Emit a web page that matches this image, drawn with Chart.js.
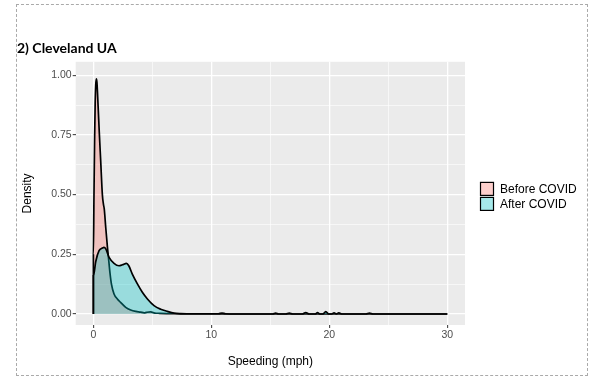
<!DOCTYPE html>
<html lang="en">
<head>
  <meta charset="UTF-8">
  <title>2) Cleveland UA</title>
  <script src="https://cdn.jsdelivr.net/npm/chart.js"></script>
  <style>
    body {
      margin: 0;
      background: #fff;
      overflow: hidden;
    }

    .frame {
      position: absolute;
      left: 16px;
      top: 4px;
      width: 572px;
      height: 372px;
      box-sizing: border-box;
      border: 1px dashed #aaa;
    }

    .chart-container {
      position: absolute;
      left: 0;
      top: 0;
      width: 600px;
      height: 379px;
    }
  </style>
</head>
<body>
  <div class="frame"></div>
  <div class="chart-container">
    <canvas id="myChart"></canvas>
  </div>

  <script>
    // Density curves (speeding in mph -> density)
    const beforeX = [0, 0, 0.05, 0.1, 0.15, 0.2, 0.25, 0.3, 0.4, 0.5, 0.62, 0.76, 0.85, 0.92, 1.05, 1.19, 1.27, 1.41, 1.53, 1.75, 2.03, 2.3, 2.74, 3.16, 3.6, 4.0, 4.3, 4.5, 4.86, 5.2, 5.6, 6.2, 7, 8, 10, 15, 20, 25, 30];
    const beforeY = [0, 0.25, 0.5, 0.72, 0.88, 0.96, 0.985, 0.97, 0.87, 0.76, 0.64, 0.5, 0.46, 0.44, 0.36, 0.28, 0.24, 0.17, 0.125, 0.084, 0.063, 0.049, 0.028, 0.017, 0.011, 0.008, 0.005, 0.007, 0.009, 0.004, 0.003, 0.002, 0.001, 0, 0, 0, 0, 0, 0];

    const afterX = [0, 0, 0.2, 0.48, 0.76, 0.9, 1.05, 1.33, 1.75, 2.17, 2.46, 2.8, 3.0, 3.3, 3.73, 4.15, 4.58, 5.14, 5.7, 6.27, 6.84, 7.4, 8.5, 10, 10.6, 10.9, 11.2, 12, 15, 15.2, 15.45, 15.7, 16.3, 16.6, 16.9, 17.7, 18.0, 18.3, 18.8, 19.0, 19.2, 19.45, 19.7, 19.95, 20.2, 20.4, 20.6, 20.8, 21.1, 22, 23.1, 23.4, 23.7, 25, 30];
    const afterY = [0, 0.16, 0.22, 0.265, 0.276, 0.279, 0.273, 0.237, 0.212, 0.202, 0.206, 0.212, 0.202, 0.167, 0.126, 0.091, 0.063, 0.035, 0.02, 0.011, 0.004, 0.002, 0.001, 0.001, 0.001, 0.004, 0.001, 0, 0, 0, 0.004, 0, 0, 0.004, 0, 0, 0.006, 0, 0, 0.006, 0, 0, 0.01, 0, 0, 0.005, 0, 0.005, 0, 0, 0, 0.004, 0, 0, 0];

    const seriesNames = ['Before COVID', 'After COVID'];
    const seriesFill = ['rgba(248, 118, 109, 0.35)', 'rgba(0, 191, 196, 0.35)'];

    // axis ticks (major ones get a label, minor ones only a thin grid line)
    const xTicks = [0, 5, 10, 15, 20, 25, 30];
    const xMajor = [0, 10, 20, 30];
    const yTicks = [0, 0.125, 0.25, 0.375, 0.5, 0.625, 0.75, 0.875, 1];
    const yMajor = [0, 0.25, 0.5, 0.75, 1];

    const toPoints = (xs, ys) => xs.map((x, i) => ({ x: x, y: ys[i] }));

    const isMajor = (axis, v) => (axis === 'x' ? xMajor : yMajor).some(m => Math.abs(m - v) < 1e-9);

    // grey ggplot panel
    const panelBg = {
      id: 'panelBg',
      beforeDraw(chart) {
        const a = chart.chartArea;
        const ctx = chart.ctx;
        ctx.save();
        ctx.fillStyle = '#EBEBEB';
        ctx.fillRect(a.left, a.top, a.right - a.left, a.bottom - a.top);
        ctx.restore();
      }
    };

    // legend on the right, ggplot style (stacked boxes with black outline)
    const sideLegend = {
      id: 'sideLegend',
      afterDraw(chart) {
        const a = chart.chartArea;
        const ctx = chart.ctx;
        const x0 = a.right + 15;
        let y0 = (a.top + a.bottom) / 2 - 11.5;
        ctx.save();
        chart.data.datasets.forEach((ds, i) => {
          const y = y0 + i * 15;
          ctx.fillStyle = '#fff';
          ctx.fillRect(x0, y, 14, 14);
          ctx.fillStyle = ds.backgroundColor;
          ctx.fillRect(x0, y, 14, 14);
          ctx.strokeStyle = '#000';
          ctx.lineWidth = 1.2;
          ctx.strokeRect(x0 + 0.5, y + 0.5, 13, 13);
          ctx.fillStyle = '#000';
          ctx.font = '12px "Liberation Sans", Arial, sans-serif';
          ctx.textBaseline = 'middle';
          ctx.textAlign = 'left';
          ctx.fillText(ds.label, x0 + 20, y + 7.5);
        });
        ctx.restore();
      }
    };

    const tickFont = { family: '"Liberation Sans", Arial, sans-serif', size: 10.5 };
    const titleFont = { family: '"Liberation Sans", Arial, sans-serif', size: 12 };

    function gridFor(axis) {
      return {
        color: c => '#FFFFFF',
        lineWidth: c => isMajor(axis, c.tick.value) ? 1.3 : 0.6,
        drawTicks: true,
        tickLength: 3,
        tickWidth: 1,
        tickColor: c => isMajor(axis, c.tick.value) ? '#333333' : 'rgba(0,0,0,0)'
      };
    }

    const ctx = document.getElementById('myChart').getContext('2d');
    const myChart = new Chart(ctx, {
      type: 'line',
      data: {
        datasets: [{
          label: seriesNames[0],
          data: toPoints(beforeX, beforeY),
          backgroundColor: seriesFill[0],
          borderColor: '#000',
          borderWidth: 1.7,
          pointRadius: 0,
          fill: 'origin',
          cubicInterpolationMode: 'monotone',
          order: 2
        }, {
          label: seriesNames[1],
          data: toPoints(afterX, afterY),
          backgroundColor: seriesFill[1],
          borderColor: '#000',
          borderWidth: 1.7,
          pointRadius: 0,
          fill: 'origin',
          cubicInterpolationMode: 'monotone',
          order: 1
        }]
      },
      options: {
        responsive: true,
        maintainAspectRatio: false,
        animation: false,
        layout: {
          padding: { left: 17, right: 135, top: 0, bottom: 4 }
        },
        plugins: {
          legend: { display: false },
          tooltip: { enabled: false },
          title: {
            display: true,
            text: '2) Cleveland UA',
            align: 'start',
            color: '#000',
            font: { family: 'Lato, "Liberation Sans", sans-serif', size: 14, weight: 'bold' },
            padding: { top: 40, bottom: 5 }
          }
        },
        scales: {
          x: {
            type: 'linear',
            min: -1.5,
            max: 31.5,
            afterBuildTicks: axis => { axis.ticks = xTicks.map(v => ({ value: v })); },
            afterFit: axis => { axis.height = 50; },
            ticks: {
              color: '#4D4D4D',
              font: tickFont,
              padding: 1,
              maxRotation: 0,
              callback: v => isMajor('x', v) ? String(v) : ''
            },
            grid: gridFor('x'),
            border: { display: false },
            title: {
              display: true,
              text: 'Speeding (mph)',
              color: '#000',
              font: titleFont,
              padding: { top: 0, bottom: 6 }
            }
          },
          y: {
            type: 'linear',
            min: -0.046,
            max: 1.056,
            afterBuildTicks: axis => { axis.ticks = yTicks.map(v => ({ value: v })); },
            afterFit: axis => { axis.width = 58.7; },
            ticks: {
              color: '#4D4D4D',
              font: tickFont,
              padding: 1,
              callback: v => isMajor('y', v) ? v.toFixed(2) : ''
            },
            grid: gridFor('y'),
            border: { display: false },
            title: {
              display: true,
              text: 'Density',
              color: '#000',
              font: titleFont,
              padding: { top: 3, bottom: 0 }
            }
          }
        }
      },
      plugins: [panelBg, sideLegend]
    });
  </script>
</body>
</html>
